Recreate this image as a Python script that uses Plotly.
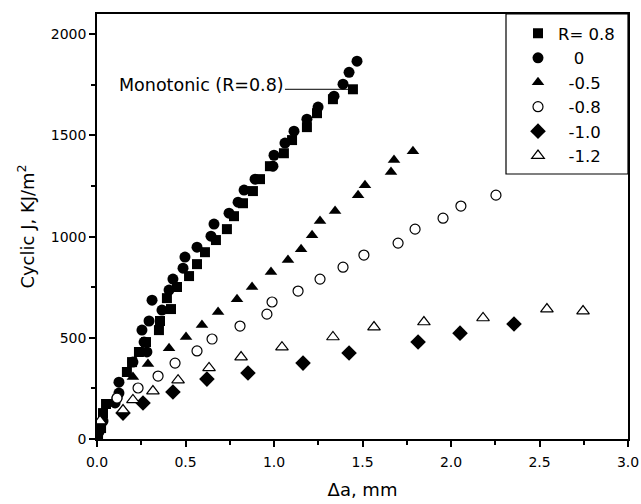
import plotly.graph_objects as go

# ---- data ----
r08_x = [0.006, 0.023, 0.034, 0.051, 0.169, 0.198, 0.237, 0.277, 0.350, 0.356, 0.395, 0.418, 0.452, 0.520,
         0.565, 0.610, 0.672, 0.734, 0.774, 0.825, 0.881, 0.921, 0.977, 1.056, 1.102, 1.186, 1.243, 1.333, 1.446]
r08_y = [15, 54, 128, 173, 331, 380, 430, 479, 538, 583, 696, 642, 751, 805,
         864, 923, 983, 1037, 1101, 1165, 1225, 1284, 1348, 1412, 1477, 1541, 1610, 1679, 1728]

r0_x = [0.011, 0.034, 0.102, 0.113, 0.124, 0.124, 0.203, 0.266, 0.282, 0.254, 0.294, 0.311, 0.367, 0.407,
        0.429, 0.486, 0.497, 0.565, 0.644, 0.661, 0.746, 0.797, 0.831, 0.893, 0.994, 1.000, 1.062, 1.113,
        1.186, 1.249, 1.339, 1.390, 1.424, 1.469]
r0_y = [35, 89, 178, 202, 227, 281, 380, 479, 430, 538, 583, 686, 637, 736,
        790, 844, 899, 948, 1002, 1062, 1116, 1170, 1230, 1284, 1348, 1402, 1462, 1521,
        1580, 1640, 1694, 1753, 1812, 1867]

rm05_x = [0.203, 0.288, 0.407, 0.503, 0.593, 0.684, 0.791, 0.876, 0.983, 1.079, 1.153, 1.215, 1.260,
          1.345, 1.475, 1.514, 1.661, 1.678, 1.785]
rm05_y = [306, 370, 449, 504, 563, 627, 691, 751, 825, 884, 938, 1007, 1077,
          1126, 1205, 1254, 1319, 1378, 1422]

rm08_x = [0.113, 0.232, 0.345, 0.441, 0.565, 0.650, 0.808, 0.960, 0.989, 1.136, 1.260, 1.390, 1.508,
          1.701, 1.797, 1.955, 2.056, 2.254]
rm08_y = [202, 252, 311, 375, 435, 494, 558, 617, 677, 731, 790, 849, 909,
          968, 1037, 1091, 1151, 1205]

rm10_x = [0.147, 0.260, 0.429, 0.621, 0.853, 1.164, 1.424, 1.814, 2.051, 2.356]
rm10_y = [128, 178, 232, 296, 326, 375, 425, 479, 523, 568]

rm12_x = [0.017, 0.147, 0.203, 0.316, 0.458, 0.633, 0.814, 1.045, 1.333, 1.565, 1.847, 2.181, 2.542, 2.746]
rm12_y = [89, 143, 193, 237, 291, 351, 405, 454, 504, 553, 578, 598, 642, 632]

NB = "\u00a0"
names = ["R= 0.8", NB * 3 + "0", NB * 2 + "-0.5", NB * 2 + "-0.8", NB * 2 + "-1.0", NB * 2 + "-1.2"]

mono_text = "Monotonic (R=0.8)"
mono_x = [1.062, 1.42]
mono_y = 1728

FONT = "DejaVu Sans, Liberation Sans, Arial, sans-serif"

series = [
    (r08_x, r08_y, "square", "black", 10),
    (r0_x, r0_y, "circle", "black", 11),
    (rm05_x, rm05_y, "triangle-up", "black", 11),
    (rm08_x, rm08_y, "circle", "white", 10),
    (rm10_x, rm10_y, "diamond", "black", 12),
    (rm12_x, rm12_y, "triangle-up", "white", 11),
]

fig = go.Figure()
for (xs, ys, sym, fill, sz), nm in zip(series, names):
    fig.add_trace(go.Scatter(
        x=xs, y=ys, mode="markers", name=nm,
        marker=dict(symbol=sym, size=sz, color=fill,
                    line=dict(color="black", width=1.2 if fill == "white" else 0)),
    ))

# monotonic label line
fig.add_trace(go.Scatter(x=mono_x, y=[mono_y, mono_y], mode="lines",
                         line=dict(color="black", width=1), showlegend=False, hoverinfo="skip"))
fig.add_annotation(x=mono_x[0], y=mono_y, xref="x", yref="y", text=mono_text,
                   showarrow=False, xanchor="right", yanchor="middle", yshift=4, xshift=1,
                   font=dict(family=FONT, size=17.5, color="black"))

axis_common = dict(
    showline=True, linecolor="black", linewidth=1.5, mirror=True,
    ticks="outside", ticklen=6, tickwidth=1.5, tickcolor="black",
    showgrid=False, zeroline=False, automargin=False,
    tickfont=dict(family=FONT, size=14, color="black"),
)

fig.update_xaxes(range=[0, 3], dtick=0.5, tickformat=".1f", ticklabelstandoff=3,
                 minor=dict(dtick=0.25, ticks="outside", ticklen=4, tickwidth=1.5, tickcolor="black"),
                 title=dict(text="\u0394a, mm", font=dict(family=FONT, size=18, color="black"), standoff=15),
                 **axis_common)
fig.update_yaxes(range=[0, 2100], tickvals=[0, 500, 1000, 1500, 2000],
                 minor=dict(tickvals=[250, 750, 1250, 1750], ticks="outside", ticklen=4, tickwidth=1.5,
                            tickcolor="black"),
                 title=dict(text="Cyclic J, KJ/m<sup>2</sup>", font=dict(family=FONT, size=18, color="black"),
                            standoff=12),
                 **axis_common)

# legend box frame
fig.add_shape(type="rect", xref="paper", yref="paper",
              x0=(506 - 97) / 531, x1=1.0, y0=(439 - 174) / 425, y1=1.0,
              line=dict(color="black", width=1.2), fillcolor="rgba(0,0,0,0)")

fig.update_layout(
    width=641, height=504,
    margin=dict(l=97, r=13, t=14, b=65),
    paper_bgcolor="white", plot_bgcolor="white",
    font=dict(family=FONT, color="black"),
    legend=dict(x=(518 - 97) / 531, y=0.995, xanchor="left", yanchor="top",
                bgcolor="rgba(0,0,0,0)", borderwidth=0,
                font=dict(family=FONT, size=16.5, color="black"), itemwidth=30),
    showlegend=True,
)

fig.write_html("out.html")
